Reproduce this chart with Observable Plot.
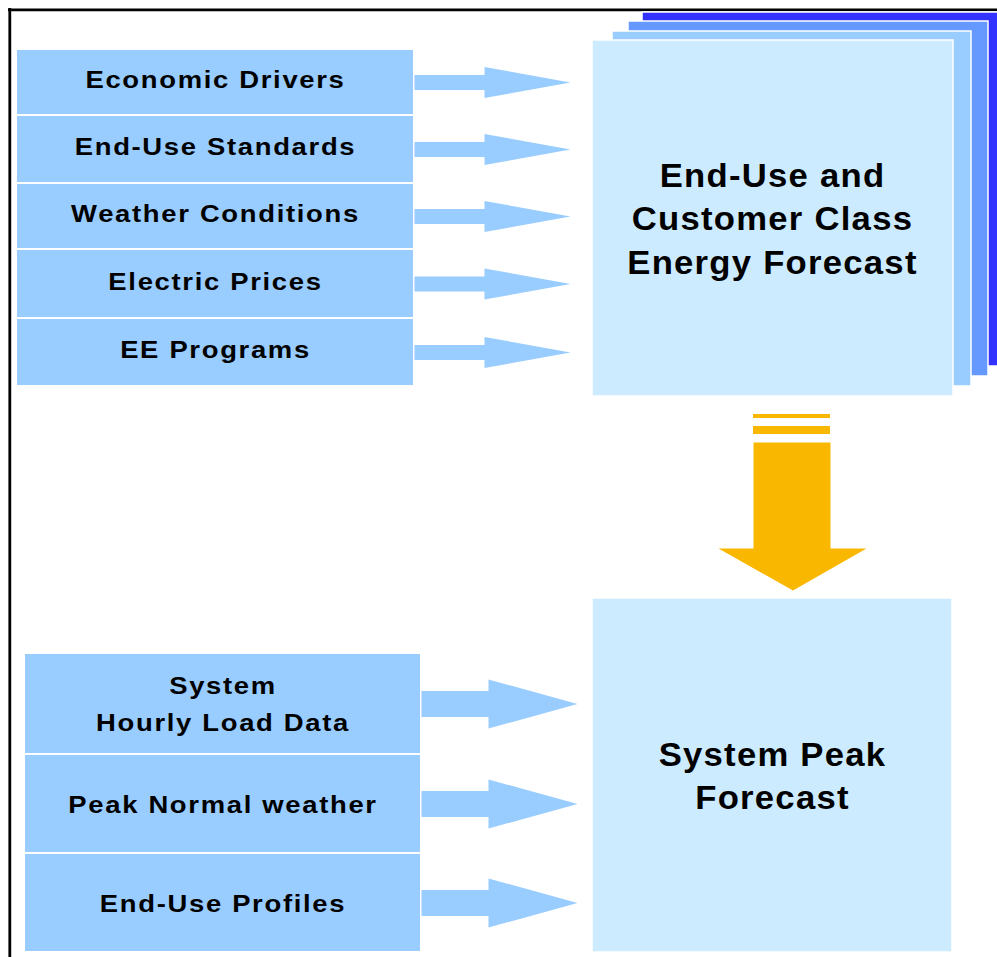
<!DOCTYPE html>
<html>
<head>
<meta charset="utf-8">
<script src="https://cdn.jsdelivr.net/npm/d3@7"></script>
<script src="https://cdn.jsdelivr.net/npm/@observablehq/plot@0.6"></script>
<style>
  html, body { margin: 0; padding: 0; background: #ffffff; }
  #chart svg { display: block; }
</style>
</head>
<body>
<div id="chart"></div>
<script>
// ---- content ----
const topInputs = ["Economic Drivers", "End-Use Standards", "Weather Conditions", "Electric Prices", "EE Programs"];
const bottomInputs = ["System\nHourly Load Data", "Peak Normal weather", "End-Use Profiles"];
const forecastLabels = ["End-Use and\nCustomer Class\nEnergy Forecast", "System Peak\nForecast"];
const stackColors = ["#3333FF", "#6699FF", "#99CCFF", "#CCEBFF"];

// ---- layout (pixel space) ----
const W = 997, H = 957;
const topRowEdges = [49, 115, 183, 249, 318, 386];
const topCol = [16, 414];
const bottomRowEdges = [653, 754, 853, 952];
const bottomCol = [24, 421];
const stackBoxes = [ // back to front
  {x1: 642, x2: 1006, y1: 12, y2: 366},
  {x1: 628, x2: 988, y1: 21, y2: 376},
  {x1: 612, x2: 971, y1: 31, y2: 386},
  {x1: 592, x2: 953, y1: 40, y2: 396}
];
const peakBox = {x1: 592, x2: 952, y1: 598, y2: 952};

const inputFill = "#99CCFF";
const lightFill = "#CCEBFF";
const gold = "#F9B700";
const font = "Liberation Sans, Arial, Helvetica, sans-serif";

const topRows = topInputs.map((label, i) => ({label, x1: topCol[0], x2: topCol[1], y1: topRowEdges[i], y2: topRowEdges[i + 1]}));
const bottomRows = bottomInputs.map((label, i) => ({label, x1: bottomCol[0], x2: bottomCol[1], y1: bottomRowEdges[i], y2: bottomRowEdges[i + 1]}));

function arrowPoly(id, x0, xb, xt, yc, hs, hh) {
  return [[x0, yc - hs], [xb, yc - hs], [xb, yc - hh], [xt, yc], [xb, yc + hh], [xb, yc + hs], [x0, yc + hs]]
    .map(([x, y]) => ({id, x, y}));
}
const arrows = [
  ...topRows.flatMap((r, i) => arrowPoly("t" + i, r.x2, 484, 570, (r.y1 + r.y2) / 2, 7.5, 15.5)),
  ...bottomRows.flatMap((r, i) => arrowPoly("b" + i, r.x2, 488, 577, (r.y1 + r.y2) / 2, 13, 24.5))
];

// gold down arrow
const gx1 = 753, gx2 = 830, gcx = (gx1 + gx2) / 2;
const goldStripes = [{y1: 414, y2: 418}, {y1: 426, y2: 434}];
const goldArrow = [[gx1, 442], [gx2, 442], [gx2, 548], [866, 548], [gcx + 1, 590], [718, 548], [gx1, 548]]
  .map(([x, y]) => ({x, y}));

const forecastText = [
  {label: forecastLabels[0], x: 772, y: 219},
  {label: forecastLabels[1], x: 772, y: 776}
];

const chart = Plot.plot({
  width: W,
  height: H,
  margin: 0,
  x: {domain: [0, W], range: [0, W], axis: null},
  y: {domain: [0, H], range: [0, H], axis: null},
  style: {background: "#ffffff", fontFamily: font},
  marks: [
    // frame
    Plot.ruleX([9.3], {y1: 8, y2: H, stroke: "#000", strokeWidth: 2.8}),
    Plot.ruleY([9.3], {x1: 8, x2: W, stroke: "#000", strokeWidth: 2.8}),
    // stacked forecast boxes
    Plot.rect(stackBoxes, {x1: "x1", x2: "x2", y1: "y1", y2: "y2", fill: (d, i) => stackColors[i], stroke: "#ffffff", strokeWidth: 1.5}),
    Plot.rect([peakBox], {x1: "x1", x2: "x2", y1: "y1", y2: "y2", fill: lightFill, stroke: "#ffffff", strokeWidth: 1.5}),
    // input boxes
    Plot.rect(topRows, {x1: "x1", x2: "x2", y1: "y1", y2: "y2", fill: inputFill, stroke: "#ffffff", strokeWidth: 2}),
    Plot.rect(bottomRows, {x1: "x1", x2: "x2", y1: "y1", y2: "y2", fill: inputFill, stroke: "#ffffff", strokeWidth: 2}),
    // input arrows
    Plot.line(arrows, {x: "x", y: "y", z: "id", fill: inputFill, stroke: null, curve: "linear-closed"}),
    // gold arrow
    Plot.rect(goldStripes, {x1: gx1, x2: gx2, y1: "y1", y2: "y2", fill: gold}),
    Plot.line(goldArrow, {x: "x", y: "y", fill: gold, stroke: null, curve: "linear-closed"}),
    // labels
    Plot.text(topRows, {x: d => (d.x1 + d.x2) / 2, y: d => (d.y1 + d.y2) / 2, dy: -2, text: "label", fontSize: 24.5, fontWeight: "bold", fill: "#000", lineAnchor: "middle", fontFamily: font}),
    Plot.text(bottomRows, {x: d => (d.x1 + d.x2) / 2, y: d => (d.y1 + d.y2) / 2, dy: -3, text: "label", fontSize: 24.5, fontWeight: "bold", fill: "#000", lineAnchor: "middle", lineHeight: 1.5, fontFamily: font}),
    Plot.text(forecastText, {x: "x", y: "y", dy: -3, text: "label", fontSize: 33, fontWeight: "bold", fill: "#000", lineAnchor: "middle", lineHeight: 1.32, fontFamily: font})
  ]
});

// the original lettering is set slightly wide: stretch glyphs and add a little tracking
d3.select(chart).selectAll("g[font-size]").each(function () {
  const fs = +this.getAttribute("font-size");
  const big = fs >= 30;
  this.setAttribute("letter-spacing", big ? "1.2px" : "1.5px");
  const sx = big ? 1.05 : 1.12;
  d3.select(this).selectAll("text").each(function () {
    const t = this.getAttribute("transform") || "";
    this.setAttribute("transform", t + ` scale(${sx},1)`);
  });
});

document.getElementById("chart").appendChild(chart);
</script>
</body>
</html>
